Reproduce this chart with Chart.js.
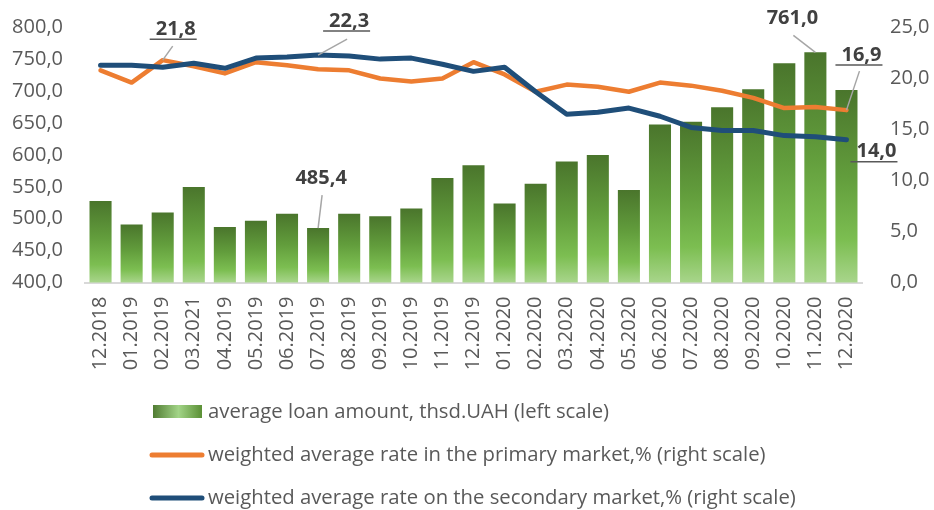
<!DOCTYPE html>
<html>
<head>
<meta charset="utf-8">
<script src="https://cdn.jsdelivr.net/npm/chart.js@4"></script>
<style>
html, body { margin: 0; padding: 0; background: #fff; }
#wrap { width: 934px; height: 510px; }
</style>
</head>
<body>
<div id="wrap"><canvas id="chart"></canvas></div>
<script>
const months = ['12.2018', '01.2019', '02.2019', '03.2021', '04.2019', '05.2019', '06.2019', '07.2019',
    '08.2019', '09.2019', '10.2019', '11.2019', '12.2019', '01.2020', '02.2020', '03.2020', '04.2020',
    '05.2020', '06.2020', '07.2020', '08.2020', '09.2020', '10.2020', '11.2020', '12.2020'];

const loanAmount = [528, 491, 510, 550, 487, 497, 508, 485.4, 508, 504, 516, 564, 584,
    524, 555, 590, 600, 545, 648, 652, 675, 703, 744, 761.0, 702];

const primaryRate = [20.8, 19.6, 21.8, 21.2, 20.5, 21.6, 21.3, 20.9, 20.8, 20.0, 19.7, 20.0, 21.6,
    20.4, 18.7, 19.4, 19.2, 18.7, 19.6, 19.3, 18.8, 18.1, 17.1, 17.2, 16.9];

const secondaryRate = [21.3, 21.3, 21.1, 21.5, 21.0, 22.0, 22.1, 22.3, 22.2, 21.9, 22.0, 21.4, 20.7,
    21.1, 18.7, 16.5, 16.7, 17.1, 16.3, 15.2, 14.9, 14.9, 14.4, 14.3, 14.0];

const leftTicks = [400, 450, 500, 550, 600, 650, 700, 750, 800];
const rightTicks = [0, 5, 10, 15, 20, 25];

const legendLabels = [
    'average loan amount, thsd.UAH (left scale)',
    'weighted average rate in the primary market,% (right scale)',
    'weighted average rate on the secondary market,% (right scale)'
];

const fmt = v => v.toFixed(1).replace('.', ',');
const FONT = '"Open Sans", Lato, sans-serif';

function barGradient(ctx, top, bottom) {
    const g = ctx.createLinearGradient(0, top, 0, bottom);
    g.addColorStop(0, '#4a752c');
    g.addColorStop(0.45, '#629d3c');
    g.addColorStop(0.78, '#7cbe51');
    g.addColorStop(1, '#a8d58b');
    return g;
}

// callouts: dataset index, point index, text offset, optional leader start and underline
const callouts = [
    { ds: 1, i: 2, dx: 13, dy: -31, lead: [10, -14], under: true },
    { ds: 2, i: 7, dx: 31, dy: -34, lead: [29, -16], under: true },
    { ds: 0, i: 7, dx: 3, dy: -50, lead: [4, -33], under: false },
    { ds: 0, i: 23, dx: -23, dy: -34, lead: [-22, -17], under: false },
    { ds: 1, i: 24, dx: 15, dy: -55, lead: [13, -39], under: true },
    { ds: 2, i: 24, dx: 30, dy: 12, lead: null, under: true }
];

const calloutPlugin = {
    id: 'callouts',
    afterDatasetsDraw(chart) {
        const ctx = chart.ctx;
        ctx.save();
        ctx.font = 'bold 20px ' + FONT;
        ctx.textAlign = 'center';
        ctx.textBaseline = 'middle';
        callouts.forEach(c => {
            const el = chart.getDatasetMeta(c.ds).data[c.i];
            const value = chart.data.datasets[c.ds].data[c.i];
            const px = el.x, py = el.y;
            const text = fmt(value);
            const tx = px + c.dx, ty = py + c.dy;
            if (c.lead) {
                ctx.strokeStyle = '#a6a6a6';
                ctx.lineWidth = 1.5;
                ctx.beginPath();
                ctx.moveTo(px + c.lead[0], py + c.lead[1]);
                ctx.lineTo(px, py);
                ctx.stroke();
            }
            ctx.fillStyle = '#404040';
            ctx.fillText(text, tx, ty);
            if (c.under) {
                const w = ctx.measureText(text).width;
                ctx.strokeStyle = '#595959';
                ctx.lineWidth = 1.5;
                ctx.beginPath();
                ctx.moveTo(tx - w / 2 - 6, ty + 10);
                ctx.lineTo(tx + w / 2 + 1, ty + 10);
                ctx.stroke();
            }
        });
        ctx.restore();
    }
};

const legendPlugin = {
    id: 'customLegend',
    afterDraw(chart) {
        const ctx = chart.ctx;
        const x0 = 151, rows = [412, 455, 498];
        ctx.save();
        // bar swatch
        const g = ctx.createLinearGradient(x0, 0, x0 + 50, 0);
        g.addColorStop(0, '#4a752c');
        g.addColorStop(0.55, '#a2d487');
        g.addColorStop(1, '#5d9238');
        ctx.fillStyle = g;
        ctx.fillRect(x0 + 2, rows[0] - 7, 49, 13);
        // line swatches
        ctx.lineCap = 'round';
        ctx.lineWidth = 5;
        [['#ed7d31', rows[1]], ['#1f4e79', rows[2]]].forEach(([col, y]) => {
            ctx.strokeStyle = col;
            ctx.beginPath();
            ctx.moveTo(x0 + 1, y);
            ctx.lineTo(x0 + 51, y);
            ctx.stroke();
        });
        ctx.font = '20.3px ' + FONT;
        ctx.fillStyle = '#595959';
        ctx.textAlign = 'left';
        ctx.textBaseline = 'middle';
        legendLabels.forEach((t, k) => ctx.fillText(t, x0 + 57, rows[k]));
        ctx.restore();
    }
};

// the tick padding would otherwise also be reserved above and below the y axes
function noVerticalPadding(scale) {
    scale.paddingTop = 0;
    scale.paddingBottom = 0;
}

const pad = { top: 15, left: 12, right: 4, bottom: 120 };

const chart = new Chart(document.getElementById('chart'), {
    data: {
        labels: months,
        datasets: [
            {
                type: 'bar',
                label: legendLabels[0],
                data: loanAmount,
                yAxisID: 'yLeft',
                order: 3,
                categoryPercentage: 1,
                barPercentage: 0.71,
                backgroundColor(c) {
                    const chart = c.chart;
                    if (!chart.chartArea || c.type !== 'data') return '#6ea646';
                    const y = chart.scales.yLeft;
                    return barGradient(chart.ctx, y.getPixelForValue(c.raw), y.getPixelForValue(y.min));
                }
            },
            {
                type: 'line',
                label: legendLabels[1],
                data: primaryRate,
                yAxisID: 'yRight',
                order: 2,
                borderColor: '#ed7d31',
                borderWidth: 4.5,
                pointRadius: 0,
                tension: 0,
                borderCapStyle: 'round',
                borderJoinStyle: 'round'
            },
            {
                type: 'line',
                label: legendLabels[2],
                data: secondaryRate,
                yAxisID: 'yRight',
                order: 1,
                borderColor: '#1f4e79',
                borderWidth: 5,
                pointRadius: 0,
                tension: 0,
                borderCapStyle: 'round',
                borderJoinStyle: 'round'
            }
        ]
    },
    options: {
        responsive: true,
        maintainAspectRatio: false,
        animation: false,
        layout: { padding: pad },
        plugins: {
            legend: { display: false },
            tooltip: { enabled: false }
        },
        scales: {
            x: {
                grid: { display: false, drawTicks: false },
                border: { display: true, color: '#d9d9d9', width: 2 },
                ticks: {
                    color: '#595959',
                    font: { family: FONT, size: 20 },
                    minRotation: 90,
                    maxRotation: 90,
                    autoSkip: false,
                    padding: 14
                }
            },
            yLeft: {
                position: 'left',
                min: leftTicks[0],
                max: leftTicks[leftTicks.length - 1],
                afterBuildTicks(scale) { scale.ticks = leftTicks.map(v => ({ value: v })); },
                afterFit: noVerticalPadding,
                grid: { display: false, drawTicks: false },
                border: { display: false },
                ticks: {
                    color: '#595959',
                    font: { family: FONT, size: 20 },
                    padding: 22,
                    callback: v => fmt(v)
                }
            },
            yRight: {
                position: 'right',
                min: rightTicks[0],
                max: rightTicks[rightTicks.length - 1],
                afterBuildTicks(scale) { scale.ticks = rightTicks.map(v => ({ value: v })); },
                afterFit: noVerticalPadding,
                grid: { display: false, drawTicks: false },
                border: { display: false },
                ticks: {
                    color: '#595959',
                    font: { family: FONT, size: 20 },
                    padding: 28,
                    callback: v => fmt(v)
                }
            }
        }
    },
    plugins: [calloutPlugin, legendPlugin]
});

// nudge the layout padding so the plot area sits where it does in the original
const target = { left: 85, top: 27.5, right: 862, bottom: 282.5 };
for (let k = 0; k < 3; k++) {
    const a = chart.chartArea;
    pad.left += target.left - a.left;
    pad.top += target.top - a.top;
    pad.right += a.right - target.right;
    pad.bottom += a.bottom - target.bottom;
    chart.update();
}
</script>
</body>
</html>
